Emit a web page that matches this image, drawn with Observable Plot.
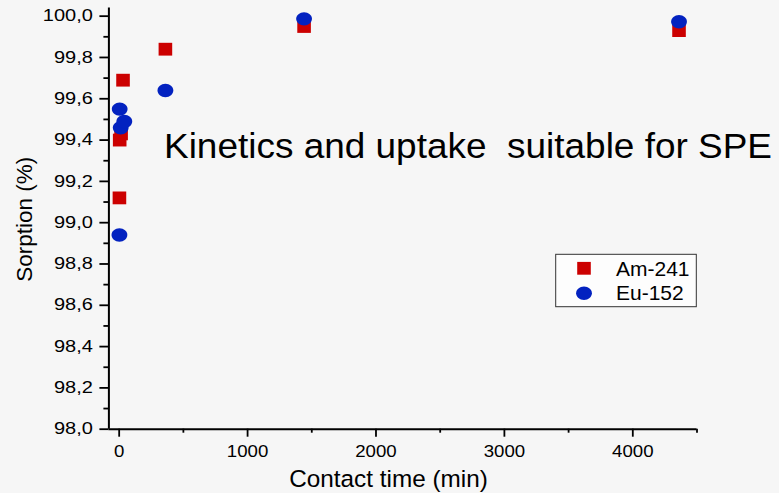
<!DOCTYPE html>
<html><head><meta charset="utf-8">
<script src="https://cdn.jsdelivr.net/npm/d3@7"></script>
<script src="https://cdn.jsdelivr.net/npm/@observablehq/plot@0.6"></script>
<style>
html,body{margin:0;padding:0;background:#f6f6f6;}
#wrap{width:779px;height:493px;}
svg{font-family:"Liberation Sans",Arial,sans-serif;}
</style></head><body><div id="wrap"></div>
<script>
// Data
const amTime  = [2, 4, 15, 30, 360, 1440, 4360];
const amValue = [99.12, 99.40, 99.43, 99.69, 99.84, 99.95, 99.93];
const euTime  = [2, 4, 12, 40, 360, 1440, 4360];
const euValue = [98.94, 99.55, 99.46, 99.49, 99.64, 99.987, 99.973];
const seriesNames = ["Am-241", "Eu-152"];
const yMajor = [98.0, 98.2, 98.4, 98.6, 98.8, 99.0, 99.2, 99.4, 99.6, 99.8, 100.0];
const yMinor = [98.1, 98.3, 98.5, 98.7, 98.9, 99.1, 99.3, 99.5, 99.7, 99.9];
const xMajor = [0, 1000, 2000, 3000, 4000];
const xMinor = [500, 1500, 2500, 3500, 4500];
const titleText = "Kinetics and uptake  suitable for SPE";
const xLabel = "Contact time (min)";
const yLabel = "Sorption (%)";

const RED = "#cc0000", BLUE = "#0322c0";
const am = amTime.map((t, i) => ({t, v: amValue[i]}));
const eu = euTime.map((t, i) => ({t, v: euValue[i]}));

const squareSym = {draw(ctx) { const w = 6.8, h = 6.4; ctx.moveTo(-w, -h); ctx.lineTo(w, -h); ctx.lineTo(w, h); ctx.lineTo(-w, h); ctx.closePath(); }};
const ellipseSym = {draw(ctx) {
  const rx = 7.9, ry = 6.7, k = 0.5523;
  ctx.moveTo(rx, 0);
  ctx.bezierCurveTo(rx, ry*k, rx*k, ry, 0, ry);
  ctx.bezierCurveTo(-rx*k, ry, -rx, ry*k, -rx, 0);
  ctx.bezierCurveTo(-rx, -ry*k, -rx*k, -ry, 0, -ry);
  ctx.bezierCurveTo(rx*k, -ry, rx, -ry*k, rx, 0);
  ctx.closePath();
}};

const fmt = d => d.toFixed(1).replace(".", ",");

const chart = Plot.plot({
  width: 779, height: 493,
  marginLeft: 108.4, marginRight: 82.5, marginTop: 7.4, marginBottom: 64.3,
  style: {background: "transparent", fontFamily: "'Liberation Sans', Arial, sans-serif", color: "#000"},
  x: {domain: [-80, 4500]},
  y: {domain: [98, 100.04]},
  marks: [
    Plot.axisY({ticks: yMajor, tickSize: 9, tickPadding: 7, tickFormat: fmt, label: null, fontSize: 16, strokeWidth: 1.8, stroke: "#000", fill: "#000"}),
    Plot.axisY({ticks: yMinor, tickSize: 5, tickFormat: () => "", label: null, strokeWidth: 1.8, stroke: "#000"}),
    Plot.axisX({ticks: xMajor, tickSize: 8, tickPadding: 8, tickFormat: d => String(d), label: null, fontSize: 16.5, strokeWidth: 1.8, stroke: "#000", fill: "#000"}),
    Plot.axisX({ticks: xMinor, tickSize: 4, tickFormat: () => "", label: null, strokeWidth: 1.8, stroke: "#000"}),
    Plot.ruleX([-80], {stroke: "#000", strokeWidth: 2}),
    Plot.ruleY([98], {stroke: "#000", strokeWidth: 2}),
    Plot.dot(am, {x: "t", y: "v", symbol: squareSym, fill: RED, stroke: null, r: 7}),
    Plot.dot(eu, {x: "t", y: "v", symbol: ellipseSym, fill: BLUE, stroke: null, r: 7})
  ]
});
document.getElementById("wrap").appendChild(chart);

const svg = d3.select(chart);
// widen tick labels to match the reference's stretched digits
svg.selectAll('g[aria-label="y-axis tick label"] text').each(function() {
  const w = this.getComputedTextLength();
  if (w > 0) d3.select(this).attr("textLength", w * 1.25).attr("lengthAdjust", "spacingAndGlyphs");
});
svg.selectAll('g[aria-label="x-axis tick label"] text').each(function() {
  const w = this.getComputedTextLength();
  if (w > 0) d3.select(this).attr("textLength", w * 1.13).attr("lengthAdjust", "spacingAndGlyphs");
});

// annotation
svg.append("text").attr("x", 164).attr("y", 158.3).attr("font-size", 35.5).attr("text-anchor", "start")
  .attr("textLength", 608).attr("lengthAdjust", "spacingAndGlyphs")
  .style("white-space", "pre").attr("fill", "#000").text(titleText);
// axis labels
svg.append("text").attr("x", 388.5).attr("y", 487.3).attr("font-size", 24.3)
  .attr("text-anchor", "middle").attr("fill", "#000").text(xLabel);
svg.append("text").attr("transform", "translate(32.3,219.2) rotate(-90)").attr("font-size", 22.5)
  .attr("text-anchor", "middle").attr("fill", "#000").text(yLabel);

// legend
const lg = svg.append("g");
lg.append("rect").attr("x", 555.7).attr("y", 254.3).attr("width", 140.6).attr("height", 52.4)
  .attr("fill", "#fdfdfd").attr("stroke", "#333").attr("stroke-width", 1);
lg.append("path").attr("transform", "translate(584,268.3)").attr("d", d3.symbol(squareSym)()).attr("fill", RED);
lg.append("path").attr("transform", "translate(584,293.3)").attr("d", d3.symbol(ellipseSym)()).attr("fill", BLUE);
lg.append("text").attr("x", 616).attr("y", 275.7).attr("font-size", 21).attr("text-anchor", "start").attr("fill", "#000").text(seriesNames[0]);
lg.append("text").attr("x", 616).attr("y", 300).attr("font-size", 21).attr("text-anchor", "start").attr("fill", "#000").text(seriesNames[1]);
</script></body></html>
